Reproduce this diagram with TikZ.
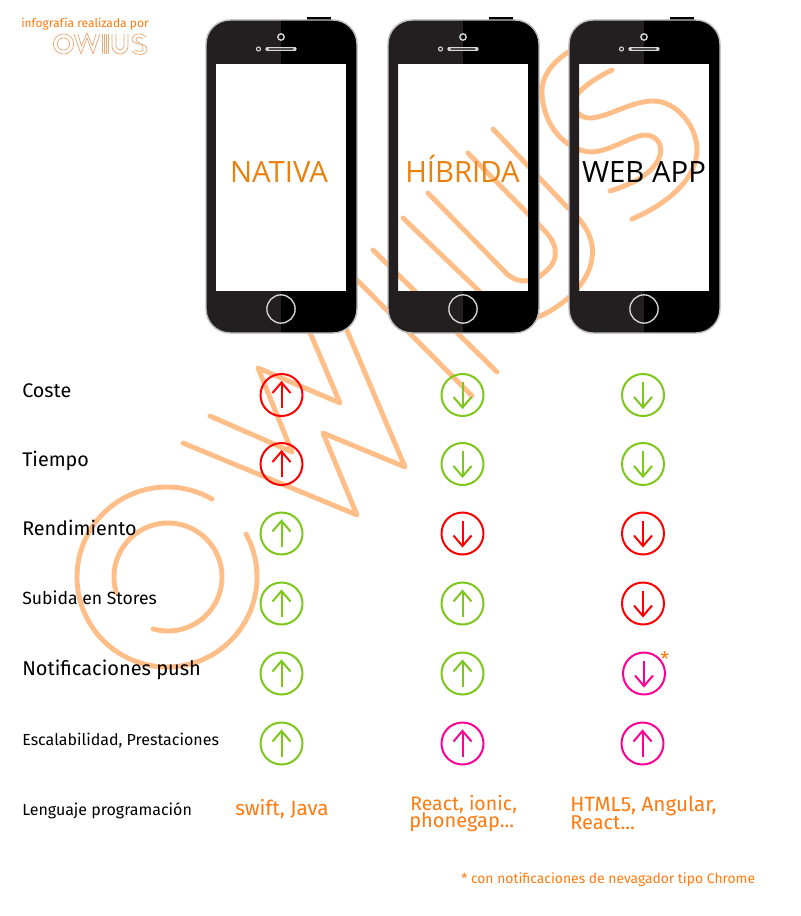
\documentclass[tikz,border=0pt]{standalone}
\usepackage{fontspec}
\setmainfont{Fira Sans}
\newfontfamily\titlefont{Open Sans}
\definecolor{wm}{HTML}{FFBE88}
\definecolor{phdark}{HTML}{231F20}
\definecolor{phedge}{HTML}{BDBDBD}
\definecolor{phring}{HTML}{D8D8D8}
\definecolor{titleor}{HTML}{E8810F}
\definecolor{txtor}{HTML}{FF7A0F}
\definecolor{logoor}{HTML}{E9A873}
\definecolor{upred}{HTML}{FF0000}
\definecolor{okgreen}{HTML}{7DC71A}
\definecolor{pinkm}{HTML}{FF0095}
\tikzset{
  x=0.75pt,y=-0.75pt,
  wmline/.style={draw=wm,line width=3.7pt,line cap=round,line join=round},
  logoline/.style={draw=logoor,line width=0.55pt,line join=round},
  ringc/.style={circle,draw,line width=1.5pt,minimum size=31.5pt,inner sep=0pt},
  arr/.style={line width=1.5pt,line cap=butt},
  rowlabel/.style={anchor=base west,inner sep=0pt,text=black},
  ortext/.style={anchor=base west,inner sep=0pt,text=txtor},
  phonetitle/.style={anchor=base,inner sep=0pt,font=\titlefont\fontsize{22pt}{24pt}\selectfont},
}
\newcommand{\ringup}[4]{%
  \node[ringc,draw=#4] (#1) at (#2,#3) {};
  \draw[arr,draw=#4] ([yshift=-9.75pt]#1.center) -- ([yshift=9.4pt]#1.center);
  \draw[arr,draw=#4] ([xshift=-6.75pt,yshift=1.5pt]#1.center) -- ([yshift=9.4pt]#1.center) -- ([xshift=6.75pt,yshift=1.5pt]#1.center);
}
\newcommand{\ringdown}[4]{%
  \node[ringc,draw=#4] (#1) at (#2,#3) {};
  \draw[arr,draw=#4] ([yshift=9.75pt]#1.center) -- ([yshift=-9.4pt]#1.center);
  \draw[arr,draw=#4] ([xshift=-6.75pt,yshift=-1.5pt]#1.center) -- ([yshift=-9.4pt]#1.center) -- ([xshift=6.75pt,yshift=-1.5pt]#1.center);
}
\newcommand{\mobile}[1]{%
  \begin{scope}[shift={(#1,0)}]
    \fill[black] (307,17.5) rectangle (331,21);
    \begin{scope}
      \clip (200,10) rectangle (281,340);
      \fill[phdark,even odd rule] [rounded corners=18pt] (206,20) -- (206,333) -- (357,333) -- (357,20) -- cycle [sharp corners] (216,64) rectangle (346,291);
    \end{scope}
    \begin{scope}
      \clip (281,10) rectangle (365,340);
      \fill[black,even odd rule] [rounded corners=18pt] (206,20) -- (206,333) -- (357,333) -- (357,20) -- cycle [sharp corners] (216,64) rectangle (346,291);
    \end{scope}
    \draw[phedge,line width=1.1pt,rounded corners=18pt] (206,20) -- (206,333) -- (357,333) -- (357,20) -- cycle;
    \draw[phring,line width=1pt] (281,37) circle[radius=2.4pt];
    \draw[phring,line width=.8pt] (258.5,49) circle[radius=1.5pt];
    \draw[phring,line width=2.4pt,line cap=round] (267,49) -- (295,49);
    \draw[black!70,line width=.8pt,line cap=round] (269,49) -- (293,49);
    \draw[phring,line width=1pt] (281,309) circle[radius=10.6pt];
  \end{scope}
}
\begin{document}
\begin{tikzpicture}
\useasboundingbox (0,0) rectangle (800,916);
\fill[white] (0,0) rectangle (800,916);
% watermark O
\draw[wmline] plot[domain=60:388.5,samples=90,smooth] ({167+90*cos(\x)},{577-90*sin(\x)});
\draw[wmline] plot[domain=196.7:-106,samples=90,smooth] ({168+54*cos(\x)},{577-54*sin(\x)});
% watermark W
\draw[wmline] (183,443) -- (357,515) -- (323,433) -- (405,467) -- (340,314);
\draw[wmline] (210,416) -- (292,452) -- (258,368) -- (340,403) -- (303,316);
% watermark I
\draw[wmline] (345,268) -- (472,396);
\draw[wmline] (373,250) -- (497,372);
% watermark U
\draw[wmline] (493,129) -- (567,207) .. controls (585,222) and (595,240) .. (592,258) .. controls (589,285) and (560,308) .. (538,317) .. controls (520,324) and (505,318) .. (478,290) -- (403,218);
\draw[wmline] (468,153) -- (543,229) .. controls (556,242) and (562,258) .. (545,272) .. controls (535,282) and (520,285) .. (507,274) -- (428,193);
% watermark S
\draw[wmline] (590,42) .. controls (560,52) and (541,72) .. (542,93) .. controls (543,125) and (565,150) .. (590,152) .. controls (610,152) and (630,136) .. (645,135) .. controls (658,135) and (664,147) .. (659,158) .. controls (652,175) and (630,185) .. (610,191);
\draw[wmline] (612,70) .. controls (595,78) and (578,90) .. (574,100) .. controls (572,112) and (582,119) .. (592,118) .. controls (610,116) and (630,102) .. (652,101) .. controls (675,100) and (697,125) .. (697,150) .. controls (697,180) and (665,205) .. (632,219);
% phones
\mobile{0}
\mobile{182}
\mobile{363}
\fill[white] (216,64) rectangle (346,291);
% titles
\node[phonetitle,text=titleor] (tnat) at (279,183) {NATIVA};
\node[phonetitle,text=titleor] (thib) at (462.5,183) {HÍBRIDA};
\node[phonetitle,text=black] (tweb) at (644,183) {WEB APP};
% logo text
\node[ortext,font=\fontsize{9pt}{10pt}\selectfont] (credit) at (21,28) {infografía realizada por};
% logo drawing
\draw[logoline] (63.5,44) circle[radius=7.6pt];
\draw[logoline] (63.5,44) circle[radius=4.6pt];
\draw[logoline] (74,34) -- (81,54) -- (87,38) -- (93,54) -- (100,34);
\draw[logoline] (78,34) -- (81.5,46) -- (87,33) -- (92.5,46) -- (96,34);
\foreach \ix in {102,104,106,108} {\draw[logoline] (\ix,34) -- (\ix,54);}
\draw[logoline] (112,34) -- (112,46) arc[start angle=180,end angle=360,radius=6pt] -- (128,34);
\draw[logoline] (116,34) -- (116,46) arc[start angle=180,end angle=360,radius=3pt] -- (124,34);
\draw[logoline] (146,37) .. controls (142,32) and (132,33) .. (132,39) .. controls (132,46) and (147,42) .. (147,49) .. controls (147,56) and (136,56) .. (132,51);
\draw[logoline] (143,39) .. controls (140,36) and (136,37) .. (136,39.5) .. controls (136,43) and (143,42) .. (143,49) .. controls (143,52) and (138,52) .. (135,50);
% row labels
\node[rowlabel,font=\fontsize{14.8pt}{16pt}\selectfont] (lcoste) at (22,397) {Coste};
\node[rowlabel,font=\fontsize{14.8pt}{16pt}\selectfont] (ltiempo) at (22,466) {Tiempo};
\node[rowlabel,font=\fontsize{14.8pt}{16pt}\selectfont] (lrend) at (22,535) {Rendimiento};
\node[rowlabel,font=\fontsize{13.2pt}{15pt}\selectfont] (lsub) at (22,604) {Subida en Stores};
\node[rowlabel,font=\fontsize{15pt}{17pt}\selectfont] (lnot) at (22,675) {Notificaciones push};
\node[rowlabel,font=\fontsize{12pt}{14pt}\selectfont] (lesc) at (22,745) {Escalabilidad, Prestaciones};
\node[rowlabel,font=\fontsize{12pt}{14pt}\selectfont] (lleng) at (22,815) {Lenguaje programación};
% rings
\ringup{a1}{281.5}{395}{upred}
\ringup{a2}{281.5}{464}{upred}
\ringup{a3}{281.5}{533.5}{okgreen}
\ringup{a4}{281.5}{603.5}{okgreen}
\ringup{a5}{281.5}{673.5}{okgreen}
\ringup{a6}{281.5}{743.5}{okgreen}
\ringdown{b1}{462.5}{395}{okgreen}
\ringdown{b2}{462.5}{464}{okgreen}
\ringdown{b3}{462.5}{533.5}{upred}
\ringup{b4}{462.5}{603.5}{okgreen}
\ringup{b5}{462.5}{673.5}{okgreen}
\ringup{b6}{462.5}{743.5}{pinkm}
\ringdown{c1}{643}{395}{okgreen}
\ringdown{c2}{643}{464}{okgreen}
\ringdown{c3}{643}{533.5}{upred}
\ringdown{c4}{643}{603.5}{upred}
\ringdown{c5}{644}{673.5}{pinkm}
\ringup{c6}{642.5}{743.5}{pinkm}
\node[ortext,font=\fontsize{15pt}{17pt}\selectfont] (star) at (660,666) {*};
% languages
\node[ortext,font=\fontsize{15.5pt}{17pt}\selectfont] (swift) at (235,815) {swift, Java};
\node[ortext,font=\fontsize{14.6pt}{16pt}\selectfont] (react1) at (410,810) {React, ionic,};
\node[ortext,font=\fontsize{15pt}{16pt}\selectfont] (react2) at (409,827) {phonegap...};
\node[ortext,font=\fontsize{15.5pt}{17pt}\selectfont] (html1) at (570,811) {HTML5, Angular,};
\node[ortext,font=\fontsize{15pt}{16pt}\selectfont] (html2) at (570,829) {React...};
\node[ortext,font=\fontsize{10.4pt}{12pt}\selectfont] (foot) at (461,883) {* con notificaciones de nevagador tipo Chrome};
\end{tikzpicture}
\end{document}
